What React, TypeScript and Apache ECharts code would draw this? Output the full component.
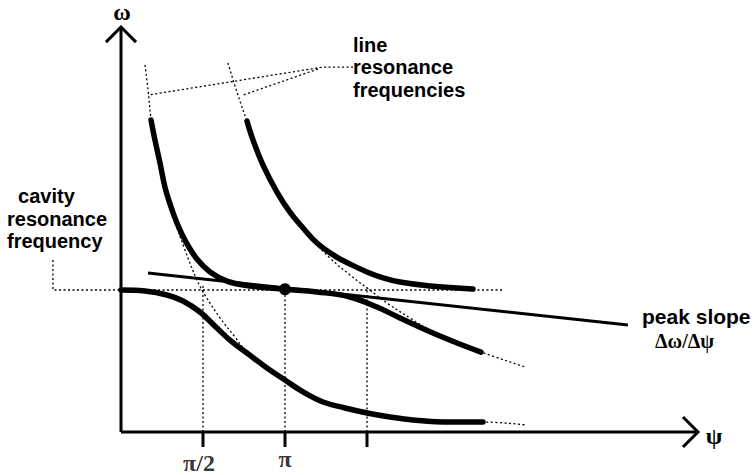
import React, { useEffect, useRef } from 'react';
import * as echarts from 'echarts';

// ψ in units of π, ω in units of the cavity resonance frequency
const psiTicks = [0.5, 1, 1.5];
const psiTickLabels = ['π/2', 'π', ''];

const cavityLeader = [[-0.415, 1.211], [-0.415, 1.0], [2.329, 1.0]];

// coupled modes (thick)
const modeUpperLeft = [
  [0.183, 2.197], [0.207, 2.056], [0.238, 1.894], [0.268, 1.725], [0.299, 1.606],
  [0.341, 1.472], [0.396, 1.338], [0.463, 1.218], [0.543, 1.127], [0.646, 1.063],
  [0.787, 1.028], [1.0, 1.005], [1.195, 0.986], [1.396, 0.951], [1.561, 0.88],
  [1.701, 0.803], [1.902, 0.697], [2.049, 0.627], [2.195, 0.563],
];
const modeUpperRight = [
  [0.768, 2.19], [0.805, 2.056], [0.866, 1.88], [0.951, 1.69], [1.03, 1.549],
  [1.11, 1.437], [1.195, 1.331], [1.305, 1.239], [1.396, 1.183], [1.5, 1.127],
  [1.598, 1.085], [1.701, 1.056], [1.884, 1.028], [2.146, 1.007],
];
const modeLower = [
  [0, 1.0], [0.146, 0.993], [0.28, 0.965], [0.378, 0.923], [0.482, 0.845],
  [0.585, 0.732], [0.677, 0.634], [0.768, 0.556], [0.89, 0.451], [1.0, 0.366],
  [1.11, 0.282], [1.232, 0.211], [1.366, 0.169], [1.5, 0.134], [1.64, 0.106],
  [1.78, 0.085], [2.006, 0.07], [2.207, 0.07],
];

// uncoupled line resonances (dotted)
const lineRes1 = [
  [0.146, 2.585], [0.165, 2.408], [0.183, 2.211], [0.213, 2.021], [0.25, 1.81],
  [0.311, 1.542], [0.39, 1.282], [0.463, 1.07], [0.512, 0.965], [0.604, 0.803],
  [0.695, 0.669], [0.768, 0.563], [0.89, 0.451], [1.0, 0.366], [1.11, 0.282],
  [1.232, 0.211], [1.366, 0.169], [1.5, 0.134], [1.64, 0.106], [1.78, 0.085],
  [2.006, 0.07], [2.207, 0.07], [2.476, 0.049],
];
const lineRes2 = [
  [0.652, 2.599], [0.707, 2.394], [0.768, 2.19], [0.823, 2.021], [0.89, 1.845],
  [0.97, 1.669], [1.061, 1.507], [1.152, 1.373], [1.274, 1.225], [1.396, 1.106],
  [1.5, 1.014], [1.64, 0.894], [1.762, 0.803], [1.902, 0.704], [2.049, 0.627],
  [2.195, 0.563], [2.463, 0.458],
];

const guideTops = [1.03, 1.0, 1.02];
const peakSlope = [[0.165, 1.12], [3.091, 0.754]];
const operatingPoint = [1.0, 1.005];

const leaderA = [[1.415, 2.57], [1.232, 2.57], [0.165, 2.373]];
const leaderB = [[1.201, 2.556], [0.744, 2.373]];

const psiAxisEnd = 3.518;
const omegaAxisEnd = 2.852;

export default function App() {
  const ref = useRef<HTMLDivElement>(null);
  useEffect(() => {
    const chart = echarts.init(ref.current!, null, { renderer: 'svg' });
    const black = '#000';
    const dotted = { color: black, width: 1.3, type: [2, 2.5] as any };
    const thick = { color: black, width: 5.5, cap: 'round', join: 'round' };
    const thin = { color: black, width: 3, cap: 'butt', join: 'miter' };
    const ax = 0.0915; // arrow half width in psi units
    const ay = 0.106; // arrow length in omega units
    const line = (data: number[][], lineStyle: any, smooth: any = false, z = 2) => ({
      type: 'line', data, lineStyle, smooth, symbol: 'none', clip: false, silent: true, z,
    });
    const series: any[] = [
      line(cavityLeader, dotted),
      line(lineRes1, dotted, 0.4),
      line(lineRes2, dotted, 0.4),
      line(leaderA, dotted),
      line(leaderB, dotted),
      ...psiTicks.map((t, i) => line([[t, 0], [t, guideTops[i]]], dotted)),
      line(modeUpperLeft, thick, 0.4, 3),
      line(modeUpperRight, thick, 0.4, 3),
      line(modeLower, thick, 0.4, 3),
      line(peakSlope, { color: black, width: 3 }, false, 4),
      line([[0, 0], [0, omegaAxisEnd]], thin, false, 5),
      line([[0, 0], [psiAxisEnd, 0]], thin, false, 5),
      line([[-ax, omegaAxisEnd - ay], [0, omegaAxisEnd], [ax, omegaAxisEnd - ay]], thin, false, 5),
      line([[psiAxisEnd - ax, ay], [psiAxisEnd, 0], [psiAxisEnd - ax, -ay]], thin, false, 5),
      ...psiTicks.map((t) => line([[t, 0], [t, -ay]], thin, false, 5)),
      {
        type: 'scatter', data: [operatingPoint], symbolSize: 12,
        itemStyle: { color: black, opacity: 1 },
        clip: false, silent: true, z: 6,
      },
      {
        type: 'scatter', symbolSize: 0, clip: false, silent: true, z: 6,
        data: psiTicks.map((t, i) => ({
          value: [t, -0.2],
          label: {
            show: true, position: 'inside', formatter: psiTickLabels[i],
            offset: i === 0 ? [-4, 3] : [0, -1],
          },
        })),
        label: { color: black, fontFamily: 'Liberation Serif', fontWeight: 'bold', fontSize: 24 },
      },
    ];
    const txt = (text: string, x: number, y: number, font: string, align = 'left', va = 'middle', lh?: number) => ({
      type: 'text', silent: true, z: 10,
      style: {
        text, x, y, font, fill: black, lineHeight: lh,
        align, verticalAlign: va, textAlign: align, textVerticalAlign: va,
      },
    });
    const sans = 'bold 20px "Liberation Sans"';
    chart.setOption({
      animation: false,
      backgroundColor: '#fff',
      grid: { left: 6.2, right: 10.8, top: 6, bottom: 7.5 },
      xAxis: { type: 'value', min: -0.7, max: 3.8, show: false },
      yAxis: { type: 'value', min: -0.25, max: 3.0, show: false },
      series,
      graphic: [
        txt('line\nresonance\nfrequencies', 353, 33.5, sans, 'left', 'top', 22.5),
        txt('\u00a0\u00a0cavity\nresonance\nfrequency', 7, 185, sans, 'left', 'top', 22.5),
        txt('peak slope', 642, 316, 'bold 21px "Liberation Sans"'),
        txt('Δω/Δψ', 655, 341, 'bold 20px "Liberation Serif"'),
        txt('ω', 122, 12, 'bold 24px "Liberation Serif"', 'center'),
        txt('ψ', 714, 436, 'bold 24px "Liberation Serif"', 'center'),
      ],
    });
    return () => chart.dispose();
  }, []);
  return (
    <div
      ref={ref}
      style={{ position: 'fixed', left: 0, top: 0, width: 755, height: 475, background: '#fff' }}
    />
  );
}
